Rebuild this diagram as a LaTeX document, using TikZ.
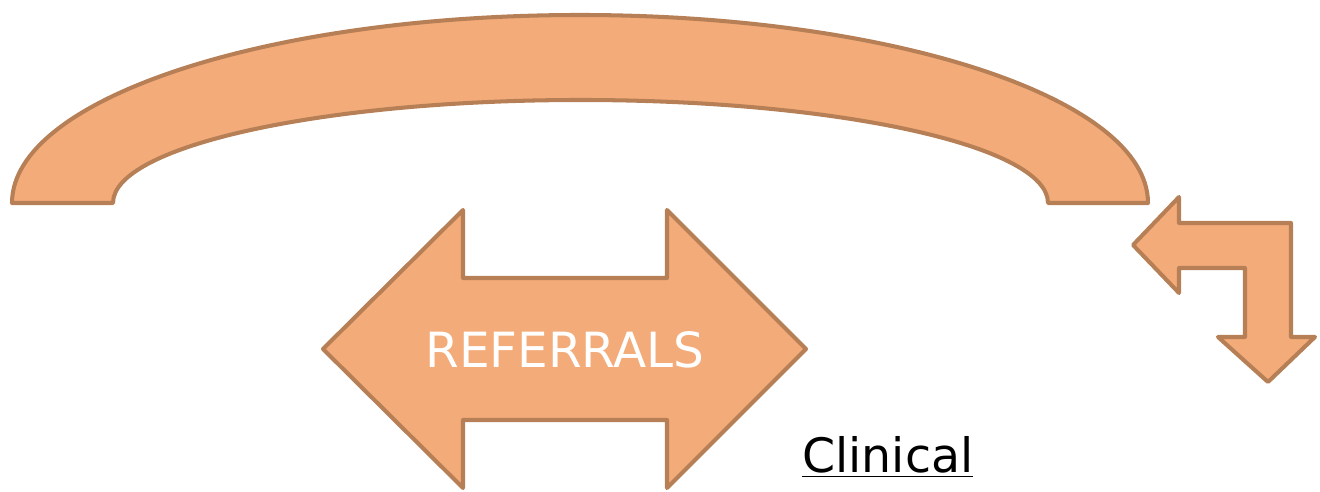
\documentclass[tikz,border=0pt]{standalone}
\usepackage{fontspec}
\setmainfont{DejaVu Sans}
\usepackage{tikz}
\usetikzlibrary{positioning}
\definecolor{peach}{RGB}{243,171,121}
\definecolor{peachedge}{RGB}{182,127,86}

\begin{document}
\begin{tikzpicture}[x=0.02cm,y=-0.02cm,
    block/.style={fill=peach,draw=peachedge,line width=2.3pt,line join=round},
    label/.style={inner sep=0pt,font=\fontsize{27}{32}\selectfont}]
           \useasboundingbox (0,0) rectangle (1320,492);
           % arc over the top
           \draw[block] (12,203) arc[start angle=180,end angle=360,x radius=568,y radius=188]
                -- (1048,203) arc[start angle=0,end angle=-180,x radius=467.5,y radius=103] -- cycle;
           % double arrow
           \draw[block] (323,349) -- (463,210) -- (463,278) -- (667,278) -- (667,210) -- (806,349)
                -- (667,488) -- (667,420) -- (463,420) -- (463,488) -- cycle;
           % bent arrow
           \draw[block] (1133,245) -- (1179,197) -- (1179,223) -- (1291,223) -- (1291,337) -- (1315,337)
                -- (1268,382) -- (1218,337) -- (1245,337) -- (1245,268) -- (1179,268) -- (1179,293) -- cycle;
           \node[label, text=white, anchor=base, font=\fontsize{27.6}{32}\selectfont] (referrals) at (565,368) {REFERRALS};
           \node[label, anchor=base west] (clinical) at (802,473) {\underline{Clinical}};
        \end{tikzpicture}
\end{document}
